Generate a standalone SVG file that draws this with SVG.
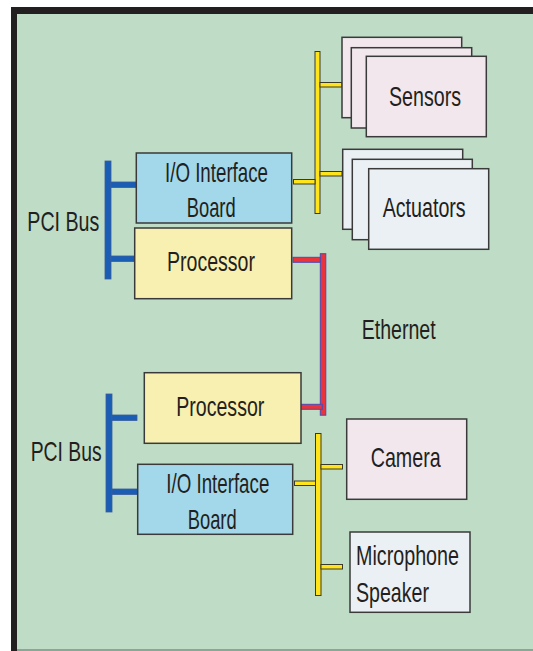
<svg xmlns="http://www.w3.org/2000/svg" width="533" height="651" viewBox="0 0 533 651">
<style>
.bx{stroke:#3a3a3a;stroke-width:1.5}
.io{fill:#a2d8ea}
.pr{fill:#f8f0b0}
.pk{fill:#f1e7ed}
.wh{fill:#ebf0f4}
.t{font-family:"Liberation Sans",Arial,sans-serif;font-size:27.5px;fill:#231f20}
.yl{fill:#ffe31b;stroke:#3a3a2a;stroke-width:1}
.bl{fill:#1a5db4;stroke:#3a5c9c;stroke-width:0.8}
.rd{fill:#e8343a;stroke:#4a4ab8;stroke-width:1}
</style>
<rect x="0" y="0" width="533" height="651" fill="#ffffff"/>
<rect x="11" y="7" width="522" height="644" fill="#231f20"/>
<rect x="17" y="14" width="516" height="637" fill="#bfdcc6"/>
<rect x="17" y="649" width="516" height="2" fill="#8da596"/>

<g id="connectors">
  <rect class="bl" x="105" y="161" width="6" height="118"/>
  <rect class="bl" x="111" y="182" width="25" height="5.5"/>
  <rect class="bl" x="111" y="256" width="24" height="5.5"/>
  <rect class="bl" x="106" y="394" width="6" height="118"/>
  <rect class="bl" x="112" y="415" width="25" height="5.5"/>
  <rect class="bl" x="112" y="489" width="26" height="5.5"/>
  <rect class="yl" x="315" y="51.5" width="5" height="162"/>
  <rect class="yl" x="320" y="82.5" width="22" height="4.5"/>
  <rect class="yl" x="320" y="171.5" width="22" height="4.5"/>
  <rect class="yl" x="293.5" y="179.5" width="21.5" height="4.5"/>
  <rect class="yl" x="315.5" y="433.5" width="5.5" height="162"/>
  <rect class="yl" x="321" y="464.5" width="21.5" height="4.5"/>
  <rect class="yl" x="321" y="564.5" width="21.5" height="4.5"/>
  <rect class="yl" x="294.5" y="481" width="21" height="4.5"/>
  <rect class="rd" x="320.3" y="253.7" width="5.5" height="161.5"/>
  <rect class="rd" x="293" y="257.3" width="27.3" height="5"/>
  <rect class="rd" x="294.3" y="404.3" width="28" height="5"/>
</g>

<g id="pci-bus-top"><text class="t" x="27.3" y="231" textLength="72" lengthAdjust="spacingAndGlyphs">PCI Bus</text></g>
<g id="pci-bus-bottom"><text class="t" x="30.7" y="460.7" textLength="71" lengthAdjust="spacingAndGlyphs">PCI Bus</text></g>
<g id="ethernet-label"><text class="t" x="361.7" y="339" textLength="74" lengthAdjust="spacingAndGlyphs">Ethernet</text></g>

<g id="io-board-top">
  <rect class="bx io" x="136.3" y="153" width="155.4" height="70"/>
  <text class="t" x="165" y="181.7" textLength="103" lengthAdjust="spacingAndGlyphs">I/O Interface</text>
  <text class="t" x="186.7" y="217.3" textLength="49" lengthAdjust="spacingAndGlyphs">Board</text>
</g>
<g id="processor-top">
  <rect class="bx pr" x="134.7" y="228" width="157" height="70.7"/>
  <text class="t" x="167" y="271" textLength="88" lengthAdjust="spacingAndGlyphs">Processor</text>
</g>
<g id="sensors">
  <rect class="bx pk" x="342" y="37.3" width="119.7" height="80.4"/>
  <rect class="bx pk" x="351.3" y="47.7" width="120.4" height="80.3"/>
  <rect class="bx pk" x="366.3" y="56.3" width="120" height="80.4"/>
  <text class="t" x="389" y="106" textLength="72" lengthAdjust="spacingAndGlyphs">Sensors</text>
</g>
<g id="actuators">
  <rect class="bx wh" x="342.7" y="149.3" width="120" height="80"/>
  <rect class="bx wh" x="352.3" y="159.3" width="120" height="80.4"/>
  <rect class="bx wh" x="368.7" y="168.7" width="120" height="80.6"/>
  <text class="t" x="382.7" y="217.3" textLength="83" lengthAdjust="spacingAndGlyphs">Actuators</text>
</g>
<g id="processor-bottom">
  <rect class="bx pr" x="144.3" y="372.7" width="156.7" height="70.6"/>
  <text class="t" x="176.3" y="416" textLength="88" lengthAdjust="spacingAndGlyphs">Processor</text>
</g>
<g id="io-board-bottom">
  <rect class="bx io" x="137.7" y="464.3" width="155" height="70"/>
  <text class="t" x="166.3" y="492.7" textLength="103" lengthAdjust="spacingAndGlyphs">I/O Interface</text>
  <text class="t" x="187.7" y="528.5" textLength="49" lengthAdjust="spacingAndGlyphs">Board</text>
</g>
<g id="camera">
  <rect class="bx pk" x="346.7" y="419" width="120" height="80.3"/>
  <text class="t" x="370.7" y="467.3" textLength="70" lengthAdjust="spacingAndGlyphs">Camera</text>
</g>
<g id="microphone-speaker">
  <rect class="bx wh" x="350" y="532" width="120" height="80.3"/>
  <text class="t" x="356" y="565" textLength="103" lengthAdjust="spacingAndGlyphs">Microphone</text>
  <text class="t" x="356" y="601.7" textLength="73" lengthAdjust="spacingAndGlyphs">Speaker</text>
</g>
</svg>
